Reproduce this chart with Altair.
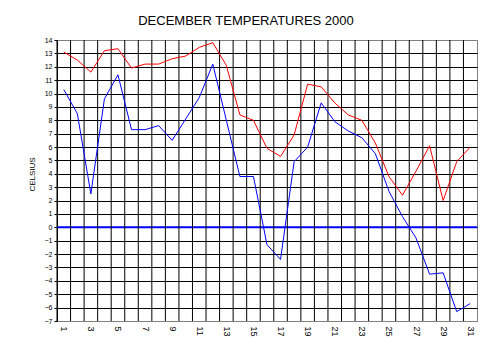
import altair as alt
import pandas as pd

days = list(range(1, 32))
tmax = [13.1, 12.5, 11.6, 13.2, 13.35, 11.9, 12.2, 12.2, 12.6, 12.8,
        13.45, 13.8, 12.1, 8.4, 8.0, 5.9, 5.3, 6.9, 10.7, 10.5,
        9.3, 8.4, 8.0, 6.3, 3.8, 2.4, 4.2, 6.1, 2.0, 4.9, 6.0]
tmin = [10.3, 8.5, 2.5, 9.6, 11.4, 7.3, 7.3, 7.6, 6.5, 8.1,
        9.7, 12.2, 8.0, 3.8, 3.8, -1.3, -2.4, 4.9, 6.0, 9.3,
        7.9, 7.2, 6.7, 5.5, 2.7, 0.8, -0.8, -3.5, -3.4, -6.3, -5.7]
y_ticks = list(range(-7, 15))
x_labels = [d for d in days if d % 2 == 1]

df = pd.DataFrame({"day": days * 2,
                   "temp": tmax + tmin,
                   "series": ["max"] * len(days) + ["min"] * len(days)})
bounds = pd.DataFrame({"day": [d - 0.5 for d in days]})
zero = pd.DataFrame({"temp": [0]})

xscale = alt.Scale(domain=[0.5, 31.5], nice=False, zero=False)
yscale = alt.Scale(domain=[-7, 14], nice=False)

x_axis = alt.Axis(values=x_labels, labelAngle=90, ticks=False,
                  grid=False, domainColor="#808080",
                  labelFont="Liberation Sans", labelFontSize=9,
                  labelColor="black", labelPadding=5,
                  labelFlush=False, labelOverlap=False)
y_axis = alt.Axis(values=y_ticks, grid=True,
                  gridColor=alt.condition("datum.value == 14 || datum.value == -7",
                                          alt.value("#808080"), alt.value("black")),
                  gridOpacity=1, gridWidth=1,
                  domainColor="black", tickColor="black", tickSize=3,
                  labelFont="Liberation Sans", labelFontSize=7,
                  labelColor="black", labelPadding=2,
                  labelFlush=False, labelOverlap=False,
                  titleFont="Liberation Sans", titleFontSize=8,
                  titleFontWeight="normal", titleColor="black",
                  titleX=-25, titleY=134, titleAngle=270,
                  titleAlign="center", titleBaseline="middle")

X = alt.X("day:Q", scale=xscale, title=None, axis=x_axis)
Y = alt.Y("temp:Q", scale=yscale, title="CELSIUS", axis=y_axis)

lines = alt.Chart(df).mark_line(strokeWidth=1).encode(
    x=X, y=Y,
    color=alt.Color("series:N", scale=alt.Scale(domain=["max", "min"],
                                                 range=["#FF0000", "#0000FF"]),
                    legend=None))
zline = alt.Chart(zero).mark_rule(color="#0000FF", strokeWidth=2).encode(y=Y)
vgrid = alt.Chart(bounds).mark_rule(color="black", strokeWidth=1).encode(x=X)

chart = alt.layer(zline, vgrid, lines).properties(
    width=420, height=281,
    title=alt.TitleParams("DECEMBER TEMPERATURES 2000", font="Liberation Sans",
                          fontSize=13, fontWeight="normal", color="black",
                          anchor="middle", frame="group", dx=-21, dy=14,
                          offset=12, baseline="alphabetic"),
    autosize=alt.AutoSizeParams(type="none"),
    padding={"left": 49, "top": 32, "right": 9, "bottom": 24},
    background="white",
).configure_view(stroke="#808080", strokeWidth=1)

chart.save("out.html", embed_options={"renderer": "svg", "actions": False})
